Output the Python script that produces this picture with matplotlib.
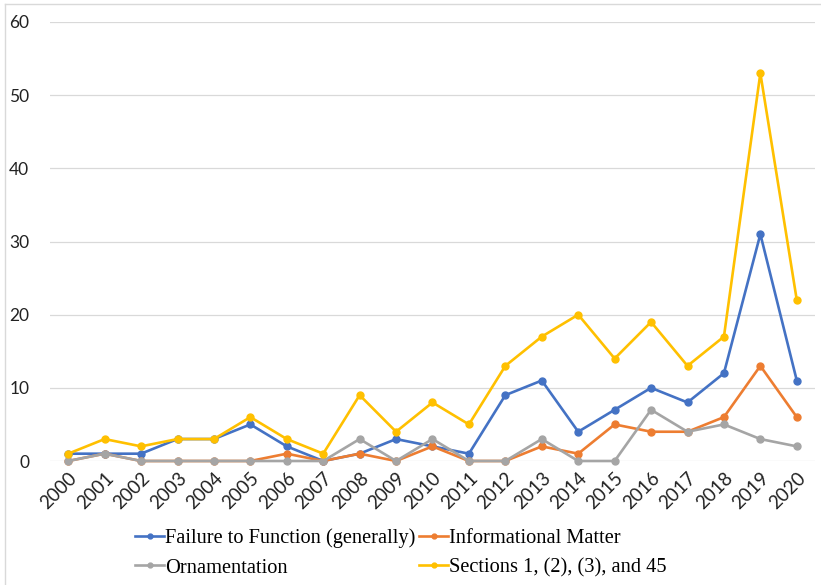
import numpy as np
import matplotlib
matplotlib.use('Agg')
import matplotlib.pyplot as plt
from matplotlib.lines import Line2D

years = [str(y) for y in range(2000, 2021)]
failure = [1, 1, 1, 3, 3, 5, 2, 0, 1, 3, 2, 1, 9, 11, 4, 7, 10, 8, 12, 31, 11]
informational = [0, 1, 0, 0, 0, 0, 1, 0, 1, 0, 2, 0, 0, 2, 1, 5, 4, 4, 6, 13, 6]
ornamentation = [0, 1, 0, 0, 0, 0, 0, 0, 3, 0, 3, 0, 0, 3, 0, 0, 7, 4, 5, 3, 2]
sections = [1, 3, 2, 3, 3, 6, 3, 1, 9, 4, 8, 5, 13, 17, 20, 14, 19, 13, 17, 53, 22]

series = [
    ('Failure to Function (generally)', failure, '#4472C4'),
    ('Informational Matter', informational, '#ED7D31'),
    ('Ornamentation', ornamentation, '#A5A5A5'),
    ('Sections 1, (2), (3), and 45', sections, '#FFC000'),
]

W, H = 821, 585
fig = plt.figure(figsize=(W / 100, H / 100), dpi=100)
ax = fig.add_axes([50 / W, 1 - 461 / H, (815 - 50) / W, (461 - 22) / H])

x = np.arange(len(years))
for label, vals, color in series:
    ax.plot(x, vals, color=color, lw=1.9, marker='o', ms=5, label=label,
            clip_on=False, zorder=3)

ax.set_xlim(-0.5, len(years) - 0.5)
ax.set_ylim(0, 60)
ax.set_yticks(range(0, 61, 10))
ax.set_xticks(x)
ax.set_xticklabels(years, rotation=45, ha='right', rotation_mode='anchor')
ax.grid(axis='y', color='#D9D9D9', lw=0.9)
ax.set_axisbelow(True)
for s in ax.spines.values():
    s.set_visible(False)
ax.tick_params(length=0, colors='#222222')
ax.tick_params(axis='x', pad=6, labelsize=13.5)
ax.tick_params(axis='y', pad=15, labelsize=12.5)
for t in ax.get_xticklabels() + ax.get_yticklabels():
    t.set_fontfamily('Lato')

# chart area border (left and top edges visible)
fig.add_artist(Line2D([5 / W, 5 / W], [0, 1 - 4 / H], color='#D9D9D9', lw=1))
fig.add_artist(Line2D([5 / W, 1], [1 - 4 / H, 1 - 4 / H], color='#D9D9D9', lw=1))

handles, labels = ax.get_legend_handles_labels()
order = [0, 2, 1, 3]
fig.legend([handles[i] for i in order], [labels[i] for i in order],
           loc='center', bbox_to_anchor=(401 / W, 1 - 553 / H), ncol=2,
           frameon=False, prop={'family': 'Liberation Serif', 'size': 14.7},
           handlelength=1.4, handletextpad=0.05, columnspacing=0.2,
           labelspacing=0.5, markerscale=0.7, borderpad=0.2)

fig.savefig('out.png', dpi=100)
